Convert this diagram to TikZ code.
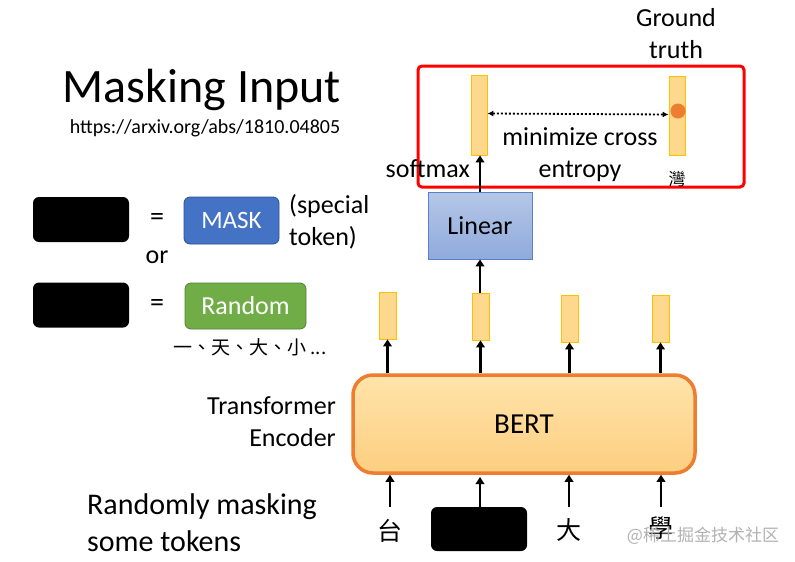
\documentclass[tikz,border=0pt]{standalone}
\usepackage{fontspec}
\setmainfont{Carlito}
\newfontfamily\cjk{Noto Sans CJK TC}
\usetikzlibrary{arrows.meta}
\definecolor{barfill}{RGB}{254,216,140}
\definecolor{barline}{RGB}{255,192,0}
\definecolor{bertline}{RGB}{237,125,49}
\definecolor{masklue}{RGB}{68,114,196}
\definecolor{maskline}{RGB}{47,82,143}
\definecolor{rndgreen}{RGB}{112,173,71}
\definecolor{rndline}{RGB}{84,130,53}
\definecolor{lintop}{RGB}{180,199,231}
\definecolor{linbot}{RGB}{143,170,220}
\definecolor{linline}{RGB}{91,127,201}
\definecolor{redframe}{RGB}{255,0,0}
\definecolor{wmgray}{RGB}{178,178,178}
\begin{document}
\begin{tikzpicture}[x=1pt,y=-1pt,
 lbl/.style={font=\fontsize{26}{30}\selectfont, inner sep=0pt},
 cjklbl/.style={font=\cjk\fontsize{25}{28}\selectfont, inner sep=1pt},
 bar/.style={draw=barline, line width=0.8pt, fill=barfill, minimum width=17pt, inner sep=0pt},
 blk/.style={fill=black, rounded corners=6pt, minimum width=96pt, minimum height=45pt, inner sep=0pt},
 arr/.style={line width=2.4pt, -{Triangle[length=7pt,width=8.5pt]}},
]
\useasboundingbox[fill=white] (0,0) rectangle (795,562);

% title
\node[font=\fontsize{48}{50}\selectfont, anchor=base, inner sep=0pt] (title) at (202,102) {Masking Input};
\node[font=\fontsize{20}{22}\selectfont, anchor=base, inner sep=0pt] (url) at (205,133) {https://arxiv.org/abs/1810.04805};

% left legend
\node[blk] (b1) at (81,219.5) {};
\node[lbl, font=\fontsize{28}{30}\selectfont] (eq1) at (157,219) {=};
\node[draw=maskline, line width=0.8pt, fill=masklue, rounded corners=6pt, minimum width=95pt, minimum height=47pt, text=white, font=\fontsize{25}{30}\selectfont, inner sep=0pt] (mask) at (231.5,220.5) {MASK};
\node[lbl, anchor=base west] (spec1) at (289,213) {(special};
\node[lbl, anchor=base west] (spec2) at (289,245) {token)};
\node[lbl, anchor=base] (or) at (157,263) {or};
\node[blk] (b2) at (81,305) {};
\node[lbl, font=\fontsize{28}{30}\selectfont] (eq2) at (157,305) {=};
\node[draw=rndline, line width=0.8pt, fill=rndgreen, rounded corners=6pt, minimum width=121pt, minimum height=46pt, text=white, font=\fontsize{26}{30}\selectfont, inner sep=0pt] (rnd) at (245.5,306) {Random};
\node[font=\cjk\fontsize{19}{21}\selectfont, inner sep=0pt] (rndex) at (250,347) {一、天、大、小 ...};

% output bars
\node[bar, minimum height=47pt] (o1) at (387.5,315.5) {};
\node[bar, minimum height=47pt] (o2) at (480.5,316.5) {};
\node[bar, minimum height=47pt] (o3) at (569.5,318.5) {};
\node[bar, minimum height=47pt] (o4) at (660.5,318.5) {};

% BERT
\node[draw=bertline, line width=3.5pt, top color={rgb,255:red,255;green,228;blue,170}, bottom color={rgb,255:red,253;green,206;blue,128}, rounded corners=20pt, minimum width=342pt, minimum height=98pt, font=\fontsize{29}{32}\selectfont] (bert) at (524,424) {BERT};
\node[lbl, anchor=base east] (tr1) at (336,414) {Transformer};
\node[lbl, anchor=base east] (tr2) at (336,446) {Encoder};

\foreach \i in {1,...,4} {\draw[arr] (o\i.south |- bert.north) -- (o\i.south);}

% inputs
\node[cjklbl] (t1) at (390,531) {台};
\node[blk, minimum height=44pt] (t2) at (479,529) {};
\node[cjklbl] (t3) at (569,530) {大};
\node[cjklbl] (t4) at (661,528) {學};
\draw[arr] (t1.north |- t2.north) -- (t1.north |- bert.south);
\draw[arr] (480,507) -- (480,477);
\draw[arr] (t3.north |- t2.north) -- (t3.north |- bert.south);
\draw[arr] (t4.north |- t2.north) -- (t4.north |- bert.south);

\node[font=\fontsize{30}{34}\selectfont, anchor=base west, inner sep=0pt] (rm1) at (87,514) {Randomly masking};
\node[font=\fontsize{30}{34}\selectfont, anchor=base west, inner sep=0pt] (rm2) at (87,551) {some tokens};

% Linear
\node[draw=linline, line width=0.8pt, top color=lintop, bottom color=linbot, minimum width=104pt, minimum height=67pt, font=\fontsize{26}{30}\selectfont, inner sep=0pt] (lin) at (480,225.5) {Linear};
\draw[arr] (o2.north -| lin.south) -- (lin.south);

% red frame
\node[draw=redframe, line width=3pt, rounded corners=4pt, minimum width=326pt, minimum height=121pt, inner sep=0pt] (frame) at (581,126.5) {};
\node[bar, minimum width=16pt, minimum height=80pt] (sm) at (479,115) {};
\node[bar, minimum width=16pt, minimum height=79pt] (gt) at (677,115.5) {};
\draw[arr] (lin.north) -- (lin.north |- sm.south);
\node[circle, fill=bertline, minimum size=15pt, inner sep=0pt] (dot) at (678,111) {};
\draw[line width=1.8pt, dash pattern=on 2pt off 2pt, {Latex[length=6pt,width=6pt]}-{Latex[length=6pt,width=6pt]}] ([yshift=1.5pt]sm.east) -- ([yshift=1pt]gt.west);

\node[lbl, anchor=base east] (softmax) at (470,177) {softmax};
\node[lbl, anchor=base] (mc1) at (580,145) {minimize cross};
\node[lbl, anchor=base] (mc2) at (580,177) {entropy};
\node[font=\cjk\fontsize{17}{20}\selectfont, inner sep=0pt] (wan) at (677,179) {灣};
\node[lbl, anchor=base] (gt1) at (676,27) {Ground};
\node[lbl, anchor=base] (gt2) at (676,58) {truth};

% watermark
\node[font=\cjk\fontsize{17}{20}\selectfont, text=wmgray, inner sep=0pt] (wm) at (703,536) {@稀土掘金技术社区};
\end{tikzpicture}
\end{document}
